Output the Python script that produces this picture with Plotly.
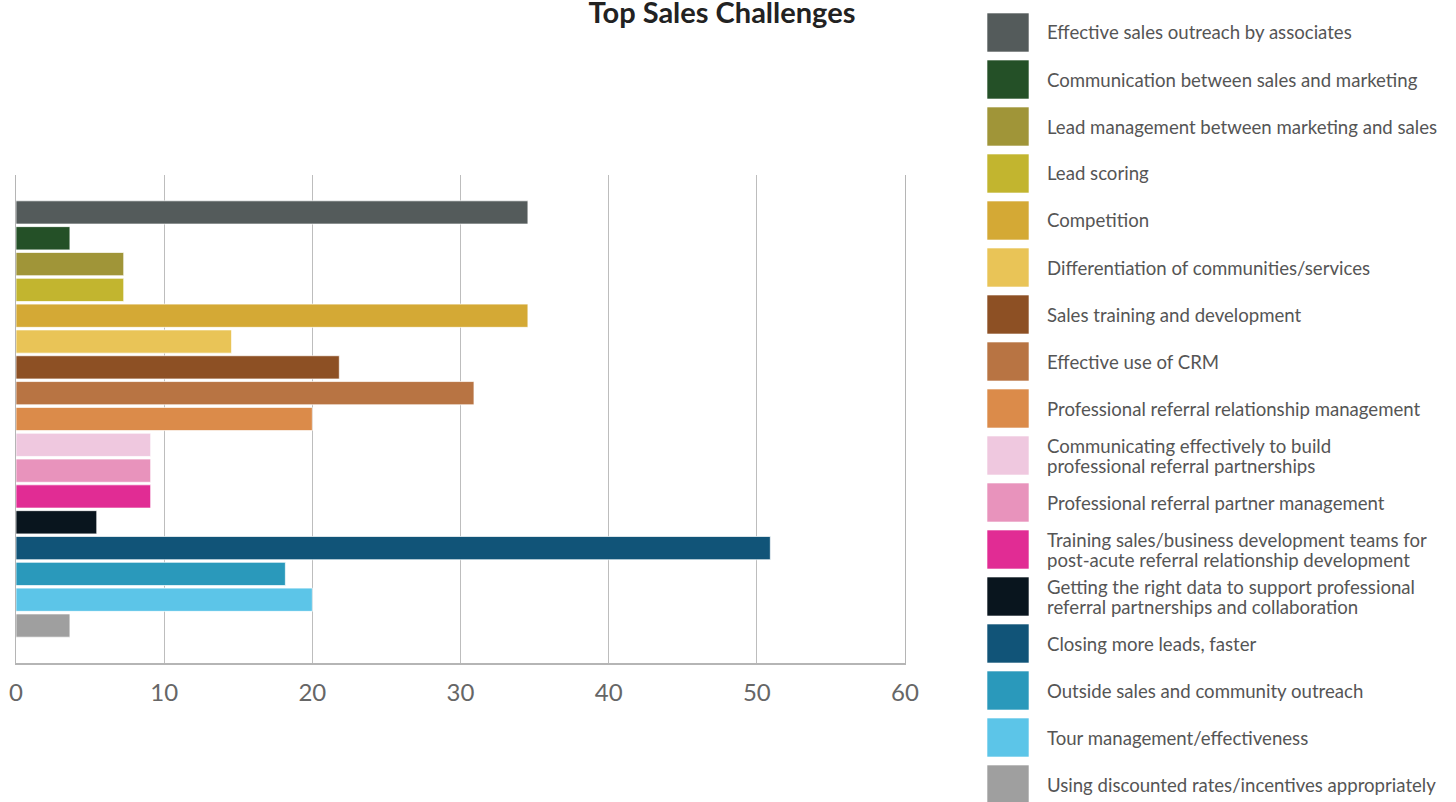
import plotly.graph_objects as go

# Survey responses (% of respondents) for each sales challenge
categories = [
    "Effective sales outreach by associates",
    "Communication between sales and marketing",
    "Lead management between marketing and sales",
    "Lead scoring",
    "Competition",
    "Differentiation of communities/services",
    "Sales training and development",
    "Effective use of CRM",
    "Professional referral relationship management",
    "Communicating effectively to build<br>professional referral partnerships",
    "Professional referral partner management",
    "Training sales/business development teams for<br>post-acute referral relationship development",
    "Getting the right data to support professional<br>referral partnerships and collaboration",
    "Closing more leads, faster",
    "Outside sales and community outreach",
    "Tour management/effectiveness",
    "Using discounted rates/incentives appropriately",
]
values = [34.55, 3.64, 7.27, 7.27, 34.55, 14.55, 21.82, 30.91, 20.0,
          9.09, 9.09, 9.09, 5.45, 50.91, 18.18, 20.0, 3.64]
colors = ["#545B5B", "#245027", "#A09538", "#C2B52F", "#D4A935", "#E9C457",
          "#8D5024", "#B87443", "#DB8B4A", "#EFC8DF", "#E893BC", "#E12C94",
          "#09151E", "#115478", "#2A99BB", "#5CC5E8", "#9F9F9F"]
x_ticks = [0, 10, 20, 30, 40, 50, 60]

W, H = 1456, 802
L, R, T, B = 16, 905, 175, 663  # plot area in pixels
FONT = "Lato, 'Open Sans', sans-serif"

idx = list(range(len(categories)))

fig = go.Figure(go.Bar(
    x=values,
    y=idx,
    orientation="h",
    marker=dict(color=colors, line=dict(color="rgba(255,255,255,0.7)", width=1)),
    width=0.9,
    hovertext=[c.replace("<br>", " ") for c in categories],
    hoverinfo="text+x",
    showlegend=False,
))


def px_x(p):
    return (p - L) / (R - L)


def px_y(p):
    return (B - p) / (B - T)


# Custom legend: large colour swatches with labels on the right
shapes = []
annotations = []
sw_x0, sw_x1, sw_top, sw_h, pitch = 987, 1029, 13, 39, 47
line_gap = 20
for i, (name, col) in enumerate(zip(categories, colors)):
    top = sw_top + i * pitch
    shapes.append(dict(
        type="rect", xref="paper", yref="paper",
        x0=px_x(sw_x0), x1=px_x(sw_x1),
        y0=px_y(top + sw_h), y1=px_y(top),
        fillcolor=col, line=dict(color="rgba(255,255,255,0.6)", width=1),
        layer="above",
    ))
    lines = name.split("<br>")
    centre = top + sw_h / 2
    first = centre - line_gap * (len(lines) - 1) / 2
    for k, line in enumerate(lines):
        annotations.append(dict(
            xref="paper", yref="paper",
            x=px_x(1045), y=px_y(first + k * line_gap),
            xanchor="left", yanchor="middle", align="left",
            text=line, showarrow=False,
            font=dict(family=FONT, size=18.6, color="#555555"),
        ))

fig.update_layout(
    width=W, height=H,
    margin=dict(l=L, r=W - R, t=T, b=H - B, pad=0, autoexpand=False),
    paper_bgcolor="white",
    plot_bgcolor="white",
    title=dict(
        text="<b>Top Sales Challenges</b>",
        x=722 / W, xanchor="center", xref="container",
        y=1 - 3 / H, yanchor="top", yref="container",
        pad=dict(t=0, b=0, l=0, r=0),
        font=dict(family=FONT, size=29, color="#222222"),
    ),
    xaxis=dict(
        range=[0, 60],
        tickvals=x_ticks,
        automargin=False,
        showgrid=True, gridcolor="#BDBDBD", gridwidth=1,
        zeroline=False,
        showline=True, linecolor="#B5B5B5", linewidth=2,
        ticks="", ticklabelstandoff=7,
        tickfont=dict(family=FONT, size=24, color="#666666"),
        fixedrange=True,
    ),
    yaxis=dict(
        range=[16 + 1.45, -1.45],
        automargin=False,
        showticklabels=False, showgrid=False, zeroline=False,
        showline=True, mirror=True, linecolor="#B5B5B5", linewidth=1,
        ticks="",
        fixedrange=True,
    ),
    shapes=shapes,
    annotations=annotations,
    font=dict(family=FONT),
)

fig.write_html("out.html")
